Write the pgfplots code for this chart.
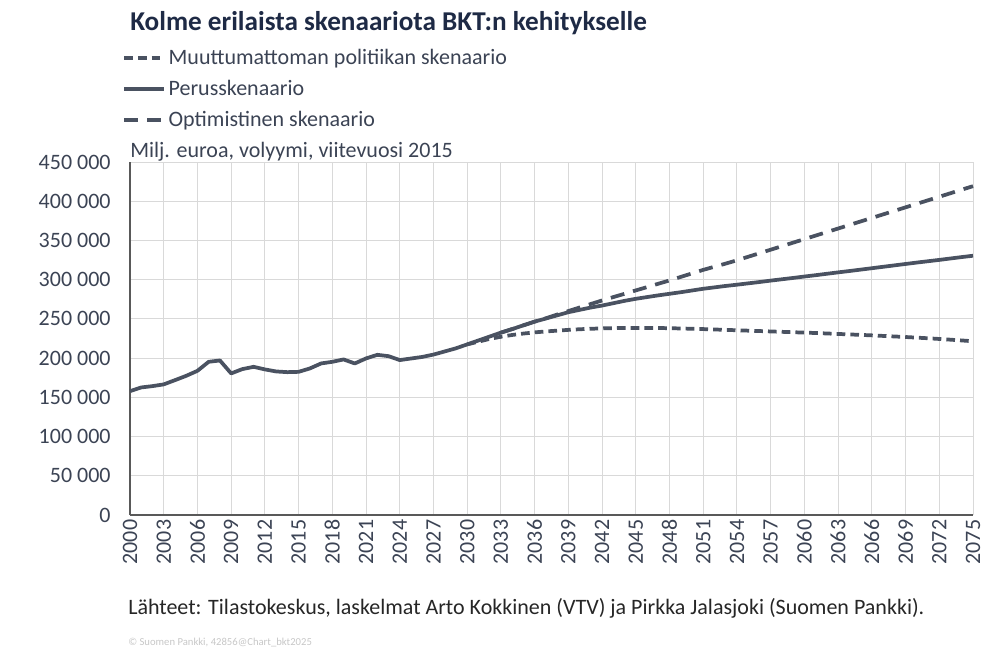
\documentclass[border=0pt]{standalone}
\usepackage{fontspec}
\setmainfont{Carlito}
\usepackage{pgfplots}
\usepackage{pgfplotstable}
\pgfplotsset{compat=1.18}
\definecolor{lineC}{HTML}{4A5261}
\definecolor{txtC}{HTML}{3B4354}
\definecolor{titleC}{HTML}{1E2A45}
\definecolor{gridC}{HTML}{D9D9D9}
\definecolor{axC}{HTML}{595959}

\pgfplotstableread{
year val
2030 217.5
2031 221.0
2032 224.5
2033 227.2
2034 229.5
2035 231.3
2036 232.8
2037 234.0
2038 235.0
2039 236.0
2040 236.8
2041 237.4
2042 237.9
2043 238.2
2044 238.4
2045 238.5
2046 238.5
2047 238.4
2048 238.1
2049 237.8
2050 237.4
2051 237.0
2052 236.5
2053 236.0
2054 235.5
2055 235.0
2056 234.5
2057 234.0
2058 233.5
2059 233.0
2060 232.5
2061 232.0
2062 231.4
2063 230.8
2064 230.2
2065 229.6
2066 229.0
2067 228.3
2068 227.6
2069 226.9
2070 226.1
2071 225.3
2072 224.4
2073 223.5
2074 222.5
2075 221.5
}\muut

\pgfplotstableread{
year val
2000 157.9
2001 162.6
2002 164.3
2003 166.5
2004 171.9
2005 177.4
2006 183.8
2007 195.3
2008 197.0
2009 180.5
2010 186.0
2011 188.9
2012 185.6
2013 183.0
2014 182.1
2015 182.5
2016 186.8
2017 193.2
2018 195.3
2019 198.3
2020 193.2
2021 199.6
2022 204.2
2023 202.5
2024 197.5
2025 199.5
2026 201.5
2027 204.5
2028 208.5
2029 212.5
2030 217.5
2031 222.5
2032 227.5
2033 232.5
2034 237.0
2035 241.8
2036 246.5
2037 250.5
2038 254.5
2039 258.5
2040 261.5
2041 264.5
2042 267.0
2043 270.0
2044 273.0
2045 275.6
2046 277.8
2047 280.0
2048 282.0
2049 284.0
2050 286.2
2051 288.4
2052 290.2
2053 292.0
2054 293.6
2055 295.3
2056 297.0
2057 298.8
2058 300.5
2059 302.2
2060 304.0
2061 305.7
2062 307.5
2063 309.3
2064 311.0
2065 312.8
2066 314.6
2067 316.4
2068 318.2
2069 320.0
2070 321.8
2071 323.5
2072 325.2
2073 327.0
2074 328.8
2075 330.5
}\perus

\pgfplotstableread{
year val
2033 232.5
2034 237.0
2035 241.8
2036 246.5
2037 250.8
2038 255.5
2039 260.0
2040 264.5
2041 269.0
2042 273.5
2043 277.8
2044 282.0
2045 286.3
2046 290.5
2047 294.8
2048 299.0
2049 303.5
2050 308.0
2051 312.5
2052 316.5
2053 320.5
2054 324.7
2055 329.2
2056 333.7
2057 338.2
2058 342.7
2059 347.2
2060 351.7
2061 356.2
2062 360.7
2063 365.2
2064 369.7
2065 374.2
2066 378.7
2067 383.2
2068 387.7
2069 392.2
2070 396.7
2071 401.2
2072 405.7
2073 410.2
2074 414.7
2075 419.2
}\opti

\begin{document}
\begin{tikzpicture}
\path[use as bounding box] (-97.5pt,-104.25pt) rectangle (652.5pt,386.25pt);
\begin{axis}[
  at={(0,0)}, anchor=south west,
  scale only axis, width=632.25pt, height=264.75pt,
  xmin=2000, xmax=2075, ymin=0, ymax=450000,
  xtick={2000,2003,...,2075},
  ytick={0,50000,...,450000},
  yticklabels={0,50 000,100 000,150 000,200 000,250 000,300 000,350 000,400 000,450 000},
  scaled y ticks=false,
  axis lines*=left,
  axis line style={draw=axC, line width=0.8pt, -},
  major tick length=0pt,
  grid=major,
  major grid style={draw=gridC, line width=0.7pt},
  tick label style={font=\fontsize{16.5}{19}\selectfont, text=txtC},
  /pgf/number format/assume math mode=true,
  yticklabel style={xshift=-11pt},
  xticklabel style={/pgf/number format/fixed, /pgf/number format/precision=0, /pgf/number format/1000 sep={}, rotate=90, anchor=east},
  clip=false,
  legend style={at={(axis description cs:0,1)}, anchor=north west,
    xshift=-6pt, yshift=86.5pt, draw=none, fill=none, inner sep=0pt,
    font=\fontsize{16.5}{19}\selectfont, text=txtC, row sep=6.1pt},
  legend cell align=left,
  legend image code/.code={\draw[#1, line width=2.8pt] (0pt,0pt) -- (30pt,0pt);},
]
\addplot[lineC, line width=2.8pt, dash pattern=on 6.5pt off 3.8pt] table[x=year, y expr=\thisrow{val}*1000] {\muut};
\addlegendentry{Muuttumattoman politiikan skenaario}
\addplot[lineC, line width=2.8pt, line join=round] table[x=year, y expr=\thisrow{val}*1000] {\perus};
\addlegendentry{Perusskenaario}
\addplot[lineC, line width=2.8pt, dash pattern=on 10.5pt off 6.8pt] table[x=year, y expr=\thisrow{val}*1000] {\opti};
\addlegendentry{Optimistinen skenaario}

\node[anchor=base west, inner sep=0pt, font=\fontsize{20.4}{24}\selectfont\bfseries, text=titleC]
  at ([yshift=98.8pt]rel axis cs:0,1) {Kolme erilaista skenaariota BKT:n kehitykselle};
\node[anchor=base west, inner sep=0pt, font=\fontsize{16.5}{19}\selectfont, text=txtC]
  at ([yshift=3.5pt]rel axis cs:0,1) {Milj. euroa, volyymi, viitevuosi 2015};
\node[anchor=base west, inner sep=0pt, font=\fontsize{16.5}{19}\selectfont, text=black!85]
  at ([yshift=-74.3pt, xshift=-1.5pt]rel axis cs:0,0) {Lähteet: Tilastokeskus, laskelmat Arto Kokkinen (VTV) ja Pirkka Jalasjoki (Suomen Pankki).};
\node[anchor=base west, inner sep=0pt, font=\fontsize{8}{9}\selectfont, text=black!22]
  at ([yshift=-97.5pt, xshift=-1.5pt]rel axis cs:0,0) {© Suomen Pankki, 42856@Chart\_bkt2025};
\end{axis}
\end{tikzpicture}
\end{document}
